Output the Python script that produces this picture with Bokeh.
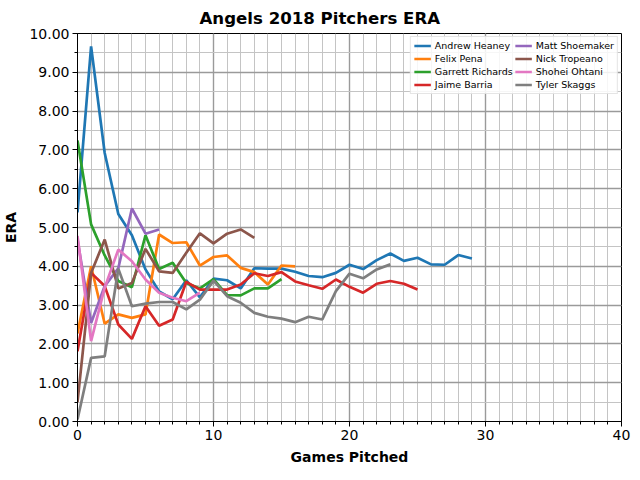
from bokeh.plotting import figure
from bokeh.models import Legend, LegendItem, SingleIntervalTicker, NumeralTickFormatter, Range1d
from bokeh.embed import file_html
from bokeh.resources import INLINE

# ERA after each game
heaney = [5.39, 9.67, 6.92, 5.35, 4.8, 3.92, 3.35, 3.15, 3.64, 3.2, 3.68, 3.64, 3.43, 3.95, 3.94,
          3.94, 3.86, 3.75, 3.72, 3.83, 4.04, 3.93, 4.16, 4.33, 4.14, 4.22, 4.05, 4.04, 4.29, 4.2]
pena = [2.27, 4.0, 2.52, 2.76, 2.67, 2.76, 4.82, 4.6, 4.62, 4.02, 4.24, 4.28, 3.96, 3.85, 3.53, 4.02, 4.0]
richards = [7.24, 5.08, 4.28, 3.62, 3.46, 4.8, 3.93, 4.09, 3.57, 3.43, 3.67, 3.26, 3.25, 3.43, 3.43, 3.67]
barria = [1.81, 3.83, 3.49, 2.5, 2.13, 2.97, 2.47, 2.63, 3.6, 3.4, 3.4, 3.4, 3.53, 3.82, 3.75,
          3.85, 3.61, 3.51, 3.42, 3.66, 3.47, 3.32, 3.55, 3.62, 3.55, 3.4]
shoemaker = [4.7, 2.54, 3.49, 3.95, 5.49, 4.84, 4.95]
tropeano = [0.5, 3.83, 4.69, 3.43, 3.57, 4.45, 3.87, 3.83, 4.35, 4.85, 4.59, 4.84, 4.95, 4.73]
ohtani = [4.78, 2.07, 3.45, 4.43, 4.13, 3.66, 3.32, 3.19, 3.1, 3.32]
skaggs = [0.05, 1.64, 1.68, 3.94, 2.97, 3.04, 3.08, 3.08, 2.89, 3.14, 3.63, 3.23, 3.06, 2.8, 2.7,
          2.65, 2.56, 2.7, 2.63, 3.36, 3.81, 3.69, 3.92, 4.05]

names = ["Andrew Heaney", "Felix Pena", "Garrett Richards", "Jaime Barria",
         "Matt Shoemaker", "Nick Tropeano", "Shohei Ohtani", "Tyler Skaggs"]
series = [heaney, pena, richards, barria, shoemaker, tropeano, ohtani, skaggs]
colors = ["#1f77b4", "#ff7f0e", "#2ca02c", "#d62728", "#9467bd", "#8c564b", "#e377c2", "#7f7f7f"]

FONT = "DejaVu Sans"

p = figure(title="Angels 2018 Pitchers ERA", x_axis_label="Games Pitched", y_axis_label="ERA",
           frame_width=544, frame_height=388,
           min_border_left=69, min_border_top=26, min_border_right=11, min_border_bottom=50,
           x_range=Range1d(0, 40), y_range=Range1d(0, 10),
           output_backend="svg", toolbar_location=None)

# title is centred on the whole figure, not on the frame
p.title.align = "left"
p.title.offset = 122
p.title.text_font = FONT
p.title.text_font_size = "16.6px"
p.title.text_font_style = "bold"
p.title.text_color = "black"
p.title.standoff = 12

p.xaxis.ticker = SingleIntervalTicker(interval=10, num_minor_ticks=10)
p.yaxis.ticker = SingleIntervalTicker(interval=1, num_minor_ticks=2)
p.yaxis.formatter = NumeralTickFormatter(format="0.00")

for ax in [p.xaxis, p.yaxis]:
    ax.axis_label_text_font = FONT
    ax.axis_label_text_font_size = "10.5pt"
    ax.axis_label_text_font_style = "bold"
    ax.axis_label_text_color = "black"
    ax.major_label_text_font = FONT
    ax.major_label_text_font_size = "10.5pt"
    ax.major_label_text_color = "black"
    ax.axis_line_color = "black"
    ax.major_tick_line_color = "black"
    ax.minor_tick_line_color = "black"
    ax.major_tick_in = 0
    ax.major_tick_out = 5
    ax.minor_tick_in = 0
    ax.minor_tick_out = 3
    ax.major_label_standoff = 3
p.xaxis.axis_label_standoff = 6
p.yaxis.axis_label_standoff = 7

p.outline_line_color = "black"
p.outline_line_alpha = 1
p.outline_line_width = 1

p.grid.grid_line_color = "#9a9a9a"
p.grid.grid_line_width = 1.4
p.grid.grid_line_alpha = 1
p.grid.minor_grid_line_color = "#c4c4c4"
p.grid.minor_grid_line_width = 1

items = []
for name, vals, col in zip(names, series, colors):
    r = p.line(x=list(range(len(vals))), y=vals, line_width=2.7, color=col)
    items.append(LegendItem(label=name, renderers=[r]))

legend = Legend(items=items, ncols=2, location="top_right")
legend.label_text_font = FONT
legend.label_text_font_size = "9.5px"
legend.label_text_color = "black"
legend.label_height = 11
legend.glyph_height = 11
legend.glyph_width = 17
legend.spacing = 2
legend.padding = 3
legend.margin = 3
legend.label_standoff = 4
legend.border_line_color = "#cccccc"
legend.background_fill_alpha = 0.85
p.add_layout(legend)

open("out.html", "w").write(file_html(p, INLINE))
